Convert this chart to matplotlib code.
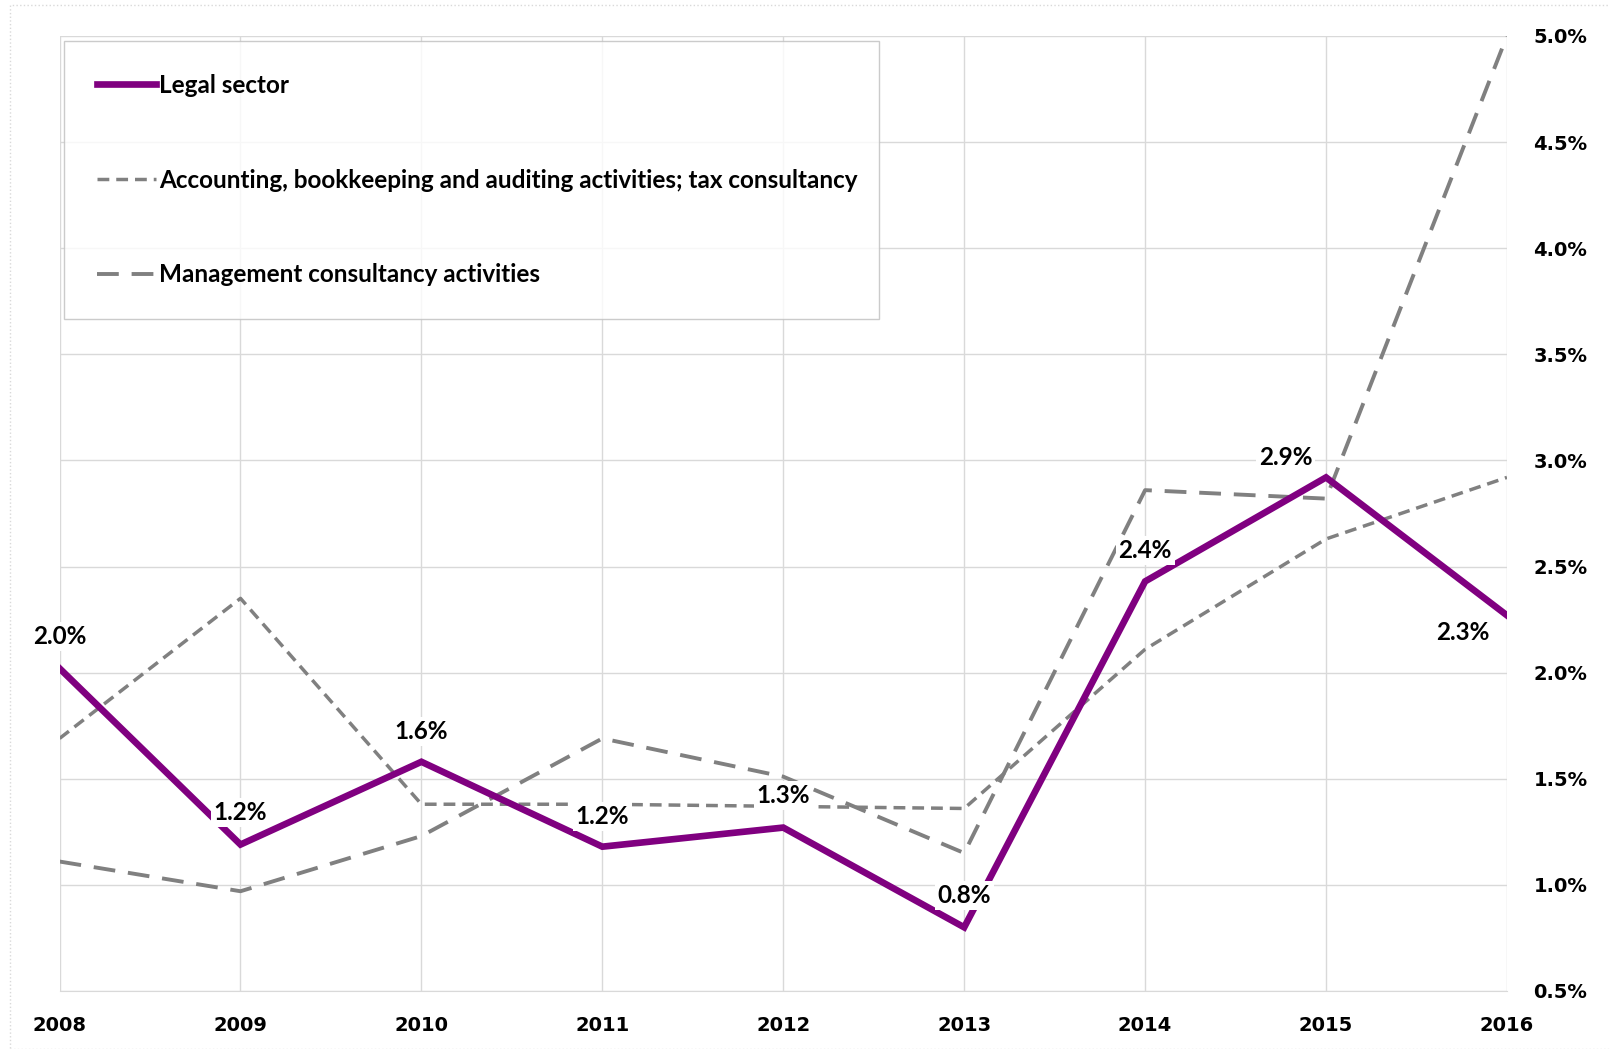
import numpy as np
import matplotlib
matplotlib.use('Agg')
import matplotlib.pyplot as plt
from matplotlib.patches import Rectangle

years = [2008, 2009, 2010, 2011, 2012, 2013, 2014, 2015, 2016]
legal = [2.02, 1.19, 1.58, 1.18, 1.27, 0.80, 2.43, 2.92, 2.27]
accounting = [1.69, 2.35, 1.38, 1.38, 1.37, 1.36, 2.11, 2.63, 2.92]
management = [1.11, 0.97, 1.23, 1.69, 1.51, 1.15, 2.86, 2.82, 5.00]
legal_labels = ['2.0%', '1.2%', '1.6%', '1.2%', '1.3%', '0.8%', '2.4%', '2.9%', '2.3%']
yticks = [0.5, 1.0, 1.5, 2.0, 2.5, 3.0, 3.5, 4.0, 4.5, 5.0]

purple = '#800080'
grey = '#808080'
label_font = ['Lato', 'DejaVu Sans']

fig = plt.figure(figsize=(16.10, 10.49), dpi=100)
ax = fig.add_axes([0.037, 0.0553, 0.899, 0.9104])

# outer chart frame
fig.patches.append(Rectangle((10 / 1610, 0), 1.0, 1 - 5 / 1049, transform=fig.transFigure,
                             fill=False, edgecolor='#d9d9d9', lw=1, linestyle=':'))

ax.plot(years, legal, color=purple, lw=4.8, solid_joinstyle='miter', label='Legal sector', zorder=4)
ax.plot(years, accounting, color=grey, lw=2.5, dashes=(3.4, 2.0),
        label='Accounting, bookkeeping and auditing activities; tax consultancy', zorder=3)
ax.plot(years, management, color=grey, lw=2.8, dashes=(5.6, 3.3),
        label='Management consultancy activities', zorder=3)

offsets = [(0, 23), (0, 23), (0, 22), (0, 22), (0, 23), (0, 23), (0, 22), (-29, 14), (-32, -12.5)]
for x, v, t, off in zip(years, legal, legal_labels, offsets):
    ax.annotate(t, (x, v), xytext=off, textcoords='offset points', ha='center', va='center',
                fontsize=17.5, fontweight='bold', family=label_font, zorder=6,
                bbox=dict(boxstyle='square,pad=0.12', fc='white', ec='none'))

ax.set_xlim(2008, 2016)
ax.set_ylim(0.5, 5.0)
ax.set_xticks(years)
ax.set_xticklabels([str(y) for y in years])
ax.set_yticks(yticks)
ax.set_yticklabels(['%.1f%%' % v for v in yticks])
ax.yaxis.tick_right()
ax.tick_params(axis='both', length=0, labelsize=14)
ax.tick_params(axis='x', pad=18)
ax.tick_params(axis='y', pad=19)
for lab in ax.get_xticklabels() + ax.get_yticklabels():
    lab.set_fontweight('bold')

ax.grid(True, color='#d9d9d9', lw=1)
ax.set_axisbelow(True)
for s in ['top', 'left', 'right']:
    ax.spines[s].set_visible(False)
ax.spines['bottom'].set_color('#d9d9d9')

leg = ax.legend(loc='upper left', bbox_to_anchor=(64 / 1610, 1 - 41 / 1049 - 0.01, 815 / 1610, 0.01),
                bbox_transform=fig.transFigure, mode='expand', frameon=True, fancybox=False,
                prop={'family': label_font, 'weight': 'bold', 'size': 17.5},
                handlelength=2.45, handletextpad=0.12, labelspacing=2.95, borderpad=1.35,
                borderaxespad=0)
leg.get_frame().set_edgecolor('#bfbfbf')
leg.get_frame().set_linewidth(1)
leg.set_zorder(7)

fig.savefig('out.png', dpi=100)
